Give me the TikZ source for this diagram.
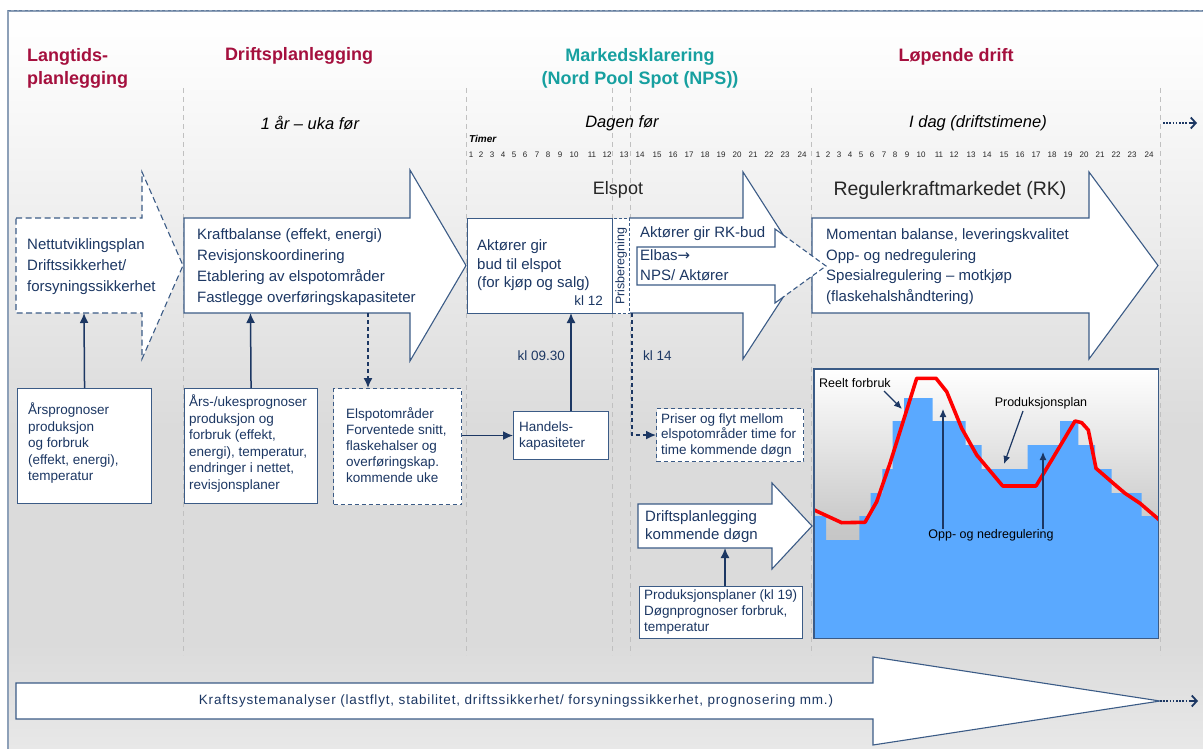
\documentclass[tikz,border=0pt]{standalone}
\usepackage{fontspec}
\setmainfont{Liberation Sans}
\newfontfamily\arrowfont{DejaVu Sans}
\newfontfamily\spacedfont[LetterSpace=6]{Liberation Sans}
\usetikzlibrary{arrows.meta}

\definecolor{edge}{HTML}{3B5B86}
\definecolor{ink}{HTML}{1C3763}
\definecolor{headred}{HTML}{A5103E}
\definecolor{headteal}{HTML}{17A0A0}
\definecolor{sepgray}{HTML}{C0C0C0}
\definecolor{chartblue}{HTML}{5AA9FF}
\definecolor{curvered}{HTML}{FF0000}
\definecolor{framec}{HTML}{8DA0B8}

% vertical fades; the filled area spans 25bp..75bp of the shading
\pgfdeclareverticalshading{panelfade}{100bp}{%
  color(0bp)=(black!9); color(25bp)=(black!9); color(32bp)=(black!14);
  color(47bp)=(black!14); color(62bp)=(black!6); color(72bp)=(black!1);
  color(75bp)=(white); color(100bp)=(white)}
\pgfdeclareverticalshading{chartfade}{100bp}{%
  color(0bp)=(black!26); color(25bp)=(black!26); color(45bp)=(black!22);
  color(75bp)=(white); color(100bp)=(white)}

\begin{document}
\begin{tikzpicture}[x=1pt,y=-1pt,
  outline/.style={draw=edge,line width=1.1pt,fill=white,line join=miter},
  dashline/.style={dash pattern=on 6pt off 3.5pt},
  link/.style={draw=ink,line width=1.5pt,-{Latex[length=10pt,width=9pt]}},
  dlink/.style={link,dash pattern=on 4pt off 3pt},
  pointer/.style={draw=ink,line width=1.2pt,-{Latex[length=8pt,width=7pt]}},
  sep/.style={draw=sepgray,line width=0.9pt,dash pattern=on 5pt off 4pt},
  hdr/.style={font=\bfseries\fontsize{18}{22.5}\selectfont,text=headred,inner sep=0},
  period/.style={font=\itshape\fontsize{16.5}{19}\selectfont,inner sep=0},
  hour/.style={font=\fontsize{8}{9}\selectfont,text=black!85,inner sep=0},
  atext/.style={font=\fontsize{15}{21}\selectfont,text=ink,align=left,inner sep=0,anchor=north west},
  btext/.style={font=\fontsize{13.5}{16.5}\selectfont,text=ink,align=left,inner sep=0,anchor=north west},
  clabel/.style={font=\fontsize{12.5}{14}\selectfont,inner sep=0},
  kl/.style={font=\fontsize{13.5}{15}\selectfont,text=ink,inner sep=0},
  box/.style={draw=edge,line width=1.1pt,fill=white,inner sep=0,anchor=north west},
]
\useasboundingbox (0,0) rectangle (1203,749);

% ---- panel background and frame
\fill[white] (0,0) rectangle (1203,749);
\shade[shading=panelfade] (8,11) rectangle (1203,749);
\draw[framec,line width=1.5pt] (8,749) -- (8,11) -- (1203,11);
\draw[edge!80,line width=1pt,dash pattern=on 3pt off 2.5pt] (8,11) -- (1203,11);

% ---- phase separators
\foreach \sx in {183,466,612,630,811,1160} \draw[sep] (\sx,88) -- (\sx,655);

% ---- phase headings
\node[hdr,anchor=north west,align=left] (hLang) at (27,48.5) {Langtids-\\planlegging};
\node[hdr] (hDrift) at (299,56) {Driftsplanlegging};
\node[hdr,text=headteal,anchor=north,align=center] (hMarked) at (640,48.5) {Markedsklarering\\(Nord Pool Spot (NPS))};
\node[hdr] (hLop) at (956,57) {Løpende drift};

\node[period] (pYear) at (310,123) {1 år – uka før};
\node[period] (pDay) at (622,123) {Dagen før};
\node[period] (pToday) at (978,123) {I dag (driftstimene)};

% continuation arrow of the time line
\coordinate (tlA) at (1163,123); \coordinate (tlB) at (1189,123); \coordinate (tlC) at (1197,123);
\draw[ink,line width=1.8pt,dash pattern=on 1.6pt off 1.6pt] (tlA) -- (tlB);
\draw[ink,line width=1.8pt,-{Straight Barb[length=5pt,width=11pt,line width=1.8pt]}] (tlB) -- (tlC);

% ---- hour scale
\node[font=\bfseries\itshape\fontsize{10}{11}\selectfont,inner sep=0,anchor=west] (timer) at (469,139) {Timer};
\foreach \n/\hx in {1/471,2/481,3/492,4/503,5/514,6/525,7/537,8/548,9/560,10/574,11/592,12/607,
  13/624,14/640,15/657,16/673,17/689,18/705,19/721,20/737,21/753,22/769,23/785,24/802}{
  \node[hour] (hrA\n) at (\hx,155) {\n};
  \node[hour] (hrB\n) at (\hx+347,155) {\n};
}

% ---- market labels
\node[font=\fontsize{18}{20}\selectfont,inner sep=0,text=black!85] (lElspot) at (618,190) {Elspot};
\node[font=\fontsize{19.5}{21}\selectfont,inner sep=0,text=black!85] (lRK) at (950,190) {Regulerkraftmarkedet (RK)};

% ---- block arrows
\draw[outline,dashline] (16,218) -- (142,218) -- (142,172) -- (183,265.5) -- (142,359) -- (142,313) -- (16,313) -- cycle;
\draw[outline] (184,218) -- (410,218) -- (410,170) -- (466,265.5) -- (410,361) -- (410,313) -- (184,313) -- cycle;
\draw[outline] (812,218) -- (1089,218) -- (1089,172) -- (1158,265.5) -- (1089,359) -- (1089,313) -- (812,313) -- cycle;

% Elspot arrow with the intraday (Elbas) arrow inside its head
\coordinate (hp) at (783.3,235); \coordinate (hq) at (783.3,297); \coordinate (htip) at (826,266);
\fill[white] (629,218) -- (743,218) -- (743,172) -- (hp) -- (htip) -- (hq) -- (743,359) -- (743,313) -- (629,313) -- cycle;
\draw[edge,line width=1.1pt,line join=miter] (hp) -- (743,172) -- (743,218) -- (629,218);
\draw[edge,line width=1.1pt,line join=miter] (629,313) -- (743,313) -- (743,359) -- (hq);
\draw[edge,line width=1.1pt,line join=miter] (hp) -- (775,229) -- (775,247) -- (637,247) -- (637,285) -- (775,285) -- (775,303) -- (hq);
\draw[edge,line width=1.1pt,dash pattern=on 5pt off 3pt] (hp) -- (htip) -- (hq);

\node[box,minimum width=145pt,minimum height=95pt] (budbox) at (467,218) {};
\node[box,minimum width=17pt,minimum height=95pt,dash pattern=on 3pt off 2pt] (prisber) at (612,218) {};
\node[font=\fontsize{12.5}{14}\selectfont,text=ink,rotate=90,inner sep=0] (prisberTxt) at (prisber.center) {Prisberegning};

% day-ahead planning arrow
\draw[outline] (638,504) -- (772,504) -- (772,483) -- (812,526) -- (772,569) -- (772,548) -- (638,548) -- cycle;

% long-run analysis arrow
\draw[outline] (16,683) -- (873,683) -- (873,657) -- (1160,701) -- (873,745) -- (873,719) -- (16,719) -- cycle;
\coordinate (baA) at (1160,701); \coordinate (baB) at (1190,701); \coordinate (baC) at (1198,701);
\draw[ink,line width=1.8pt,dash pattern=on 1.6pt off 1.6pt] (baA) -- (baB);
\draw[ink,line width=1.8pt,-{Straight Barb[length=5pt,width=11pt,line width=1.8pt]}] (baB) -- (baC);

% ---- texts in the block arrows
\node[atext] (tNett) at (27,238.5) {Nettutviklingsplan\\Driftssikkerhet/\\forsyningssikkerhet};
\node[atext] (tKraft) at (197,228.5) {Kraftbalanse (effekt, energi)\\Revisjonskoordinering\\Etablering av elspotområder\\Fastlegge overføringskapasiteter};
\node[atext,font=\fontsize{15}{18.5}\selectfont] (tBud) at (477,239.5) {Aktører gir\\bud til elspot\\(for kjøp og salg)};
\node[kl,anchor=east] (tKl12) at (603,301) {kl 12};
\node[atext] (tRKbud) at (640,226.5) {Aktører gir RK-bud};
\node[atext,font=\fontsize{15}{20}\selectfont] (tElbas) at (640,249.5) {Elbas{\arrowfont→}\\NPS/ Aktører};
\node[atext,font=\fontsize{15}{20.5}\selectfont] (tRK) at (826,228.5) {Momentan balanse, leveringskvalitet\\Opp- og nedregulering\\Spesialregulering – motkjøp\\(flaskehalshåndtering)};
\node[atext,font=\fontsize{15}{17.5}\selectfont] (tDogn) at (645,510.5) {Driftsplanlegging\\kommende døgn};
\node[font=\spacedfont\fontsize{13.5}{15}\selectfont,text=ink,inner sep=0] (tAnalyse) at (516,701) {Kraftsystemanalyser (lastflyt, stabilitet, driftssikkerhet/ forsyningssikkerhet, prognosering mm.)};

% ---- input boxes
\node[box,minimum width=134pt,minimum height=115pt] (arsbox) at (17,388) {};
\node[btext] (tArs) at (28,403) {Årsprognoser\\produksjon\\og forbruk\\(effekt, energi),\\temperatur};
\node[box,minimum width=133pt,minimum height=115pt] (ukebox) at (184,388) {};
\node[btext] (tUke) at (189,395) {Års-/ukesprognoser\\produksjon og\\forbruk (effekt,\\energi), temperatur,\\endringer i nettet,\\revisjonsplaner};
\node[box,minimum width=128pt,minimum height=116pt,dash pattern=on 4pt off 3pt] (omrbox) at (333,388) {};
\node[btext,font=\fontsize{13.5}{16}\selectfont] (tOmr) at (346,407.4) {Elspotområder\\Forventede snitt,\\flaskehalser og\\overføringskap.\\kommende uke};
\node[box,minimum width=95pt,minimum height=48pt] (handbox) at (513,411) {};
\node[btext,font=\fontsize{13.5}{16}\selectfont] (tHand) at (519,421.4) {Handels-\\kapasiteter};
\node[box,minimum width=147pt,minimum height=53pt,dash pattern=on 4pt off 3pt] (prisbox) at (656,408) {};
\node[btext,font=\fontsize{13.5}{15.5}\selectfont] (tPris) at (661,413.4) {Priser og flyt mellom\\elspotområder time for\\time kommende døgn};
\node[box,minimum width=163pt,minimum height=52pt] (prodbox) at (639,586) {};
\node[btext,font=\fontsize{13.5}{16}\selectfont] (tProd) at (644,589.4) {Produksjonsplaner (kl 19)\\Døgnprognoser forbruk,\\temperatur};

\node[kl,anchor=east] (kl0930) at (565,356) {kl 09.30};
\node[kl,anchor=west] (kl14) at (643,356) {kl 14};

% ---- connectors
\coordinate (nettfoot) at (84,313);
\coordinate (kraftfoot) at (250.5,313);
\coordinate (kraftdrop) at (368,313);
\coordinate (budfoot) at (571,313);
\coordinate (prisfoot) at (632,313);
\coordinate (driftfoot) at (725,548);
\draw[link] (arsbox.north) -- (nettfoot);
\draw[link] (ukebox.north) -- (kraftfoot);
\draw[dlink] (kraftdrop) -- (kraftdrop |- omrbox.north);
\draw[link] (omrbox.east |- handbox.west) -- (handbox.west);
\draw[link] (budfoot |- handbox.north) -- (budfoot);
\draw[dlink] (prisfoot) |- (prisbox.west);
\draw[link] (driftfoot |- prodbox.north) -- (driftfoot);

% ---- balancing chart
\node[anchor=north west,minimum width=344pt,minimum height=269pt,inner sep=0] (chart) at (814,369) {};
\shade[shading=chartfade] (chart.north west) rectangle (chart.south east);
\begin{scope}
\clip (chart.north west) rectangle (chart.south east);
\fill[chartblue] (814,640) -- (814,516) -- (826,516) -- (826,540) -- (859.3,540) -- (859.3,516)
  -- (870.7,516) -- (870.7,493) -- (882.3,493) -- (882.3,469) -- (892.7,469) -- (892.7,421)
  -- (904,421) -- (904,398) -- (932.7,398) -- (932.7,421) -- (965.7,421) -- (965.7,445)
  -- (981.7,445) -- (981.7,469) -- (1027.7,469) -- (1027.7,445) -- (1060,445) -- (1060,421)
  -- (1078.3,421) -- (1078.3,445) -- (1095,445) -- (1095,469) -- (1111.7,469) -- (1111.7,493)
  -- (1141.7,493) -- (1141.7,516) -- (1160,516) -- (1160,640) -- cycle;
\draw[curvered,line width=3.6pt,line join=round] (812,509) -- (841.7,522.7) -- (865,522.3)
  -- (876.7,501.7) -- (890,463.3) -- (916.7,378.3) -- (936,378.3) -- (946.7,391.7)
  -- (961.7,428.3) -- (976.7,455) -- (1002.7,486) -- (1036,486) -- (1051.7,460)
  -- (1075,421) -- (1081.7,422.7) -- (1088.3,430) -- (1096,468.3) -- (1113.3,483.3)
  -- (1125,493.3) -- (1140,503.3) -- (1160,520.5);
\end{scope}
\draw[edge,line width=1.1pt] (chart.north west) rectangle (chart.south east);

\node[clabel,anchor=west] (lReelt) at (819,383) {Reelt forbruk};
\node[clabel] (lPlan) at (1041,403) {Produksjonsplan};
\node[clabel] (lOpp) at (991,535) {Opp- og nedregulering};
\coordinate (reeltFrom) at (884,391); \coordinate (reeltTo) at (902,409);
\coordinate (planFrom) at (1023,411); \coordinate (planTo) at (1004,464);
\coordinate (oppA) at (943,409); \coordinate (oppB) at (1043,452);
\draw[pointer] (reeltFrom) -- (reeltTo);
\draw[pointer] (planFrom) -- (planTo);
\draw[pointer] (oppA |- lOpp.north) -- (oppA);
\draw[pointer] (oppB |- lOpp.north) -- (oppB);
\end{tikzpicture}
\end{document}
